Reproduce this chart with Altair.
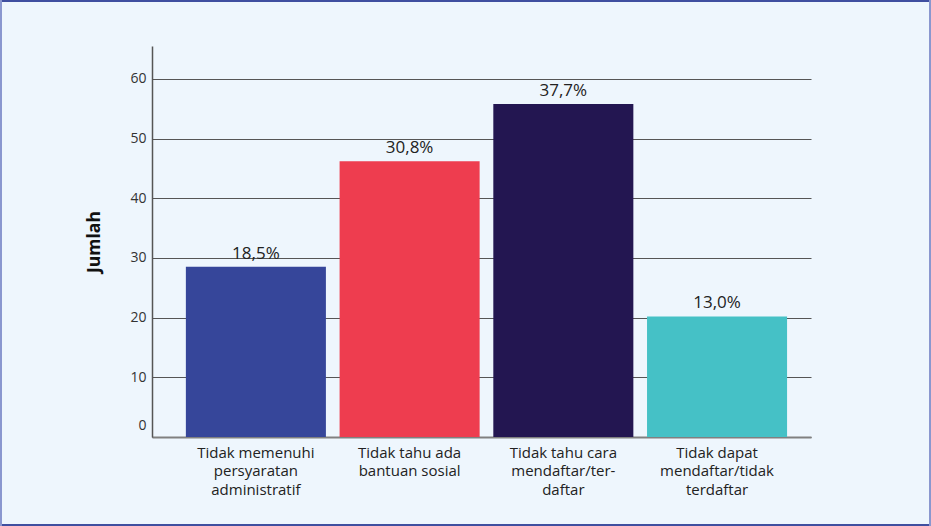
import altair as alt
import pandas as pd

categories = [
    "Tidak memenuhi|persyaratan|administratif",
    "Tidak tahu ada|bantuan sosial",
    "Tidak tahu cara|mendaftar/ter-|daftar",
    "Tidak dapat|mendaftar/tidak|terdaftar",
]
values = [28.5, 46.2, 55.8, 20.2]
pct_labels = ["18,5%", "30,8%", "37,7%", "13,0%"]
colors = ["#36469A", "#EE3D4F", "#231651", "#45C1C6"]
y_ticks = [0, 10, 20, 30, 40, 50, 60]

df = pd.DataFrame({"cat": categories, "val": values, "pct": pct_labels})

FONT = "Open Sans"
W, H = 659, 391
PL, PT = 152, 46
TOTAL_W, TOTAL_H = 931, 526

x_enc = alt.X(
    "cat:N",
    sort=None,
    scale=alt.Scale(paddingInner=0.089, paddingOuter=0.188, align=0.586),
    axis=alt.Axis(
        title=None,
        labelExpr="split(datum.label, '|')",
        labelAngle=0,
        labelFont=FONT,
        labelFontSize=15,
        labelColor="#222222",
        labelLineHeight=18.5,
        labelPadding=8,
        labelBaseline="top",
        ticks=False,
        domainColor="#808080",
        domainWidth=2,
        grid=False,
    ),
)

y_enc = alt.Y(
    "val:Q",
    scale=alt.Scale(domain=[0, 65.5], nice=False, zero=True),
    axis=alt.Axis(
        title="Jumlah",
        titleFont=FONT,
        titleFontSize=17.5,
        titleFontWeight="bold",
        titleColor="#111111",
        titlePadding=26,
        values=y_ticks,
        labelFont=FONT,
        labelFontSize=14,
        labelColor="#333333",
        labelPadding=6,
        labelOffset={"condition": {"test": "datum.value === 0", "value": -12}, "value": 0},
        ticks=False,
        domainColor="#555555",
        domainWidth=1.5,
        grid=True,
        gridColor="#555555",
        gridWidth=1.2,
    ),
)

bars = alt.Chart(df).mark_bar().encode(
    x=x_enc,
    y=y_enc,
    color=alt.Color("cat:N", sort=None, scale=alt.Scale(domain=categories, range=colors), legend=None),
)

text = alt.Chart(df).mark_text(
    baseline="bottom", dy=-4, font=FONT, fontSize=17, color="#222222"
).encode(
    x=alt.X("cat:N", sort=None),
    y="val:Q",
    text="pct:N",
)

# frame around the whole figure
def edge(x, x2, y, y2, color):
    return alt.Chart(df).mark_rule(color=color, strokeWidth=2).encode(
        x=alt.value(x), x2=alt.value(x2), y=alt.value(y), y2=alt.value(y2)
    )

frame = (
    edge(-PL, TOTAL_W - PL, -PT + 1, -PT + 1, "#3F4FA0")
    + edge(-PL, TOTAL_W - PL, TOTAL_H - PT - 1, TOTAL_H - PT - 1, "#3F4FA0")
    + edge(-PL + 1, -PL + 1, -PT, TOTAL_H - PT, "#8A97CF")
    + edge(TOTAL_W - PL - 1, TOTAL_W - PL - 1, -PT, TOTAL_H - PT, "#8A97CF")
)

chart = (
    alt.layer(bars, text, frame)
    .properties(
        width=W,
        height=H,
        background="#EEF6FD",
        padding={"left": PL, "top": PT, "right": TOTAL_W - PL - W, "bottom": TOTAL_H - PT - H},
        autosize=alt.AutoSizeParams(type="none"),
    )
    .configure_view(stroke=None)
)

chart.save("out.html", embed_options={"renderer": "svg", "actions": False})
